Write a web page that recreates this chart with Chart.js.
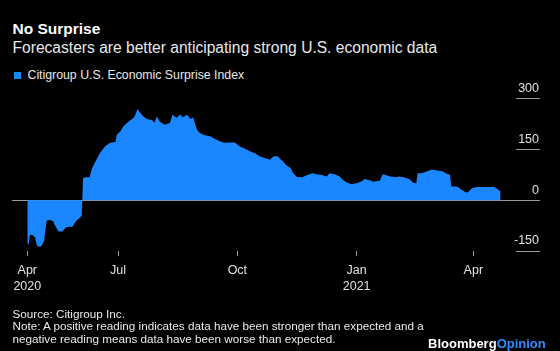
<!DOCTYPE html>
<html>
<head>
<meta charset="utf-8">
<script src="https://cdn.jsdelivr.net/npm/chart.js@4"></script>
<style>
  html, body { margin: 0; padding: 0; background: #000; }
  body { width: 560px; height: 351px; position: relative; overflow: hidden; font-family: "Liberation Sans", Arial, sans-serif; color: #e8e8e8; }
  .txt { position: absolute; left: 12.5px; white-space: nowrap; line-height: 1; }
  #judul { top: 20.5px; font-size: 15.5px; font-weight: bold; color: #fff; }
  #subjudul { top: 40px; font-size: 15.6px; }
  #legenda { top: 68.5px; left: 27.5px; font-size: 12.3px; }
  #kotak { position: absolute; left: 13.5px; top: 71.5px; width: 7px; height: 7px; background: #1a86ff; }
  .catatan { font-size: 11.7px; }
  #logo { position: absolute; left: 428px; top: 337px; font-size: 13px; font-weight: bold; color: #fff; line-height: 1; white-space: nowrap; }
  #logo span { color: #2b8cff; }
  canvas { position: absolute; left: 0; top: 0; }
</style>
</head>
<body>
<div id="judul" class="txt">No Surprise</div>
<div id="subjudul" class="txt">Forecasters are better anticipating strong U.S. economic data</div>
<div id="kotak"></div>
<div id="legenda" class="txt">Citigroup U.S. Economic Surprise Index</div>
<canvas id="grafik" width="560" height="351"></canvas>
<div class="txt catatan" style="top:307.5px">Source: Citigroup Inc.</div>
<div class="txt catatan" style="top:320.3px">Note: A positive reading indicates data have been stronger than expected and a</div>
<div class="txt catatan" style="top:333px">negative reading means data have been worse than expected.</div>
<div id="logo">Bloomberg<span>Opinion</span></div>
<script>
// Data: hari ke-n sejak 1 Apr 2020, nilai indeks
const hari = [
  21, 22, 23, 25, 27, 28, 29, 31, 32, 34, 35, 36, 39, 41, 42, 44, 45, 48, 49, 51,
  53, 56, 57, 59, 62, 63, 64, 66, 69, 71, 73, 77, 81, 85, 89, 90, 93, 95, 98, 100,
  103, 104, 106, 108, 110, 113, 116, 117, 119, 121, 123, 127, 131, 133, 136, 139, 141, 144, 147, 149,
  150, 152, 154, 158, 162, 166, 170, 173, 177, 181, 185, 189, 193, 197, 200, 204, 208, 211, 214, 218,
  221, 224, 226, 229, 233, 237, 241, 244, 248, 252, 254, 258, 262, 264, 268, 271, 275, 279, 281, 285,
  288, 291, 293, 295, 298, 301, 305, 308, 312, 316, 319, 321, 322, 325, 329, 333, 337, 341, 345, 347,
  348, 351, 353, 355, 359, 361, 364, 368, 372, 378, 381, 383, 386
];
const nilaiIndeks = [
  -125, -132, -102, -103, -110, -128, -137, -137, -135, -120, -85, -60, -58, -62, -72, -85, -92, -92, -88, -80,
  -78, -78, -70, -60, -50, -45, 65, 68, 68, 95, 110, 140, 160, 170, 172, 194, 205, 218, 229, 235,
  244, 250, 270, 259, 250, 240, 238, 238, 229, 248, 233, 223, 228, 253, 244, 253, 245, 253, 240, 245,
  230, 208, 199, 192, 189, 180, 174, 170, 171, 171, 159, 152, 144, 138, 130, 125, 120, 130, 130, 115,
  103, 95, 80, 69, 68, 75, 80, 77, 75, 70, 80, 77, 70, 61, 51, 48, 50, 56, 63, 59,
  55, 57, 58, 77, 74, 70, 68, 70, 67, 61, 51, 50, 80, 80, 85, 91, 88, 86, 77, 76,
  41, 41, 40, 33, 24, 24, 36, 39, 39, 39, 40, 35, 26
];

// Label sumbu
const posisiBulan = [21, 91, 183, 275, 365];
const labelBulan = [['Apr', '2020'], ['Jul'], ['Oct'], ['Jan', '2021'], ['Apr']];
const labelNilai = [-150, 0, 150, 300];

const warnaBiru = '#1a86ff';
const warnaGaris = '#9a9a9a';
const warnaTeks = '#e0e0e0';

const ctx = document.getElementById('grafik').getContext('2d');
const grafik = new Chart(ctx, {
    type: 'line',
    data: {
        datasets: [{
            label: 'Citigroup U.S. Economic Surprise Index',
            data: hari.map((h, i) => ({ x: h, y: nilaiIndeks[i] })),
            backgroundColor: warnaBiru,
            borderWidth: 0,
            pointRadius: 0,
            tension: 0,
            fill: 'origin'
        }]
    },
    options: {
        responsive: false,
        animation: false,
        devicePixelRatio: 1,
        layout: {
            padding: { left: 12, right: 20, top: 92, bottom: 60 }
        },
        plugins: {
            legend: { display: false },
            tooltip: { enabled: false }
        },
        scales: {
            x: {
                type: 'linear',
                min: 9.2,
                max: 397.9,
                afterBuildTicks: s => { s.ticks = posisiBulan.map(v => ({ value: v })); },
                afterFit: s => { s.height = 40; },
                border: { display: false },
                grid: { drawOnChartArea: false, tickLength: 5, color: warnaGaris },
                ticks: {
                    autoSkip: false,
                    maxRotation: 0,
                    padding: 6,
                    color: warnaTeks,
                    font: { family: 'Liberation Sans', size: 12.5, lineHeight: 1.3 },
                    callback: (v, i) => labelBulan[i]
                }
            },
            y: {
                position: 'right',
                min: -150,
                max: 320,
                z: 1,
                afterBuildTicks: s => { s.ticks = labelNilai.map(v => ({ value: v })); },
                afterFit: s => { s.width = 24; },
                border: { display: false },
                grid: {
                    color: c => (c.tick && c.tick.value === 0) ? warnaGaris : 'transparent',
                    tickColor: warnaGaris,
                    tickLength: 24
                },
                ticks: {
                    mirror: true,
                    padding: 23,
                    labelOffset: -10,
                    color: warnaTeks,
                    font: { family: 'Liberation Sans', size: 12.5 }
                }
            }
        }
    }
});
</script>
</body>
</html>
